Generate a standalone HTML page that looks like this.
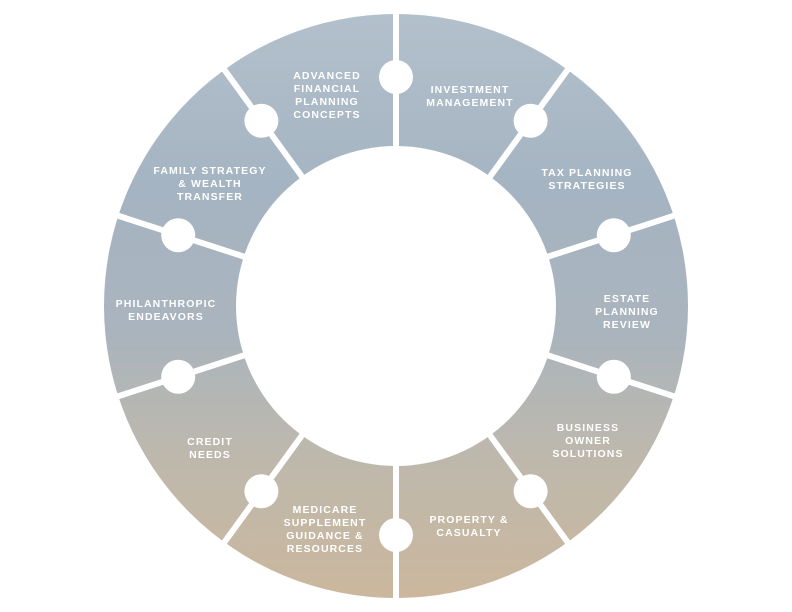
<!DOCTYPE html>
<html><head><meta charset="utf-8"><style>
html,body{margin:0;padding:0;background:#fff;}
svg{display:block}
text{font-family:"Liberation Sans",sans-serif;font-weight:bold;font-size:10.5px;letter-spacing:1.1px;fill:#fff;text-anchor:middle}
</style></head><body>
<svg width="792" height="612" viewBox="0 0 792 612" xmlns="http://www.w3.org/2000/svg">
<defs>
<linearGradient id="g" x1="0" y1="0" x2="0" y2="1">
<stop offset="0" stop-color="#b3c0cc"/>
<stop offset="0.3" stop-color="#a5b4c2"/>
<stop offset="0.55" stop-color="#aab4bd"/>
<stop offset="0.75" stop-color="#bdb8ad"/>
<stop offset="1" stop-color="#cbb79d"/>
</linearGradient>
<mask id="m"><rect width="792" height="612" fill="#fff"/><circle cx="396" cy="306" r="160" fill="#000"/></mask>
</defs>
<circle cx="396" cy="306" r="292" fill="url(#g)" mask="url(#m)"/>
<g stroke="#fff" stroke-width="6" id="lines"></g>
<g fill="#fff" id="dots"></g>
<script>
var L=document.getElementById('lines'),D=document.getElementById('dots'),ns='http://www.w3.org/2000/svg';
for(var i=0;i<10;i++){var a=i*36*Math.PI/180,s=Math.sin(a),c=Math.cos(a);
var l=document.createElementNS(ns,'line');l.setAttribute('x1',396+155*s);l.setAttribute('y1',306-155*c);l.setAttribute('x2',396+300*s);l.setAttribute('y2',306-300*c);L.appendChild(l);
var d=document.createElementNS(ns,'circle');d.setAttribute('cx',396+229*s);d.setAttribute('cy',306-229*c);d.setAttribute('r',17);D.appendChild(d);}
</script>
<text x="327" y="79">ADVANCED</text><text x="327" y="92">FINANCIAL</text><text x="327" y="105">PLANNING</text><text x="327" y="118">CONCEPTS</text>
<text x="470" y="93">INVESTMENT</text><text x="470" y="106">MANAGEMENT</text>
<text x="587" y="176">TAX PLANNING</text><text x="587" y="189">STRATEGIES</text>
<text x="627" y="302">ESTATE</text><text x="627" y="315">PLANNING</text><text x="627" y="328">REVIEW</text>
<text x="588" y="431">BUSINESS</text><text x="588" y="444">OWNER</text><text x="588" y="457">SOLUTIONS</text>
<text x="469" y="523">PROPERTY &amp;</text><text x="469" y="536">CASUALTY</text>
<text x="325" y="513">MEDICARE</text><text x="325" y="526">SUPPLEMENT</text><text x="325" y="539">GUIDANCE &amp;</text><text x="325" y="552">RESOURCES</text>
<text x="210" y="445">CREDIT</text><text x="210" y="458">NEEDS</text>
<text x="166" y="307">PHILANTHROPIC</text><text x="166" y="320">ENDEAVORS</text>
<text x="210" y="174">FAMILY STRATEGY</text><text x="210" y="187">&amp; WEALTH</text><text x="210" y="200">TRANSFER</text>
</svg>
</body></html>
